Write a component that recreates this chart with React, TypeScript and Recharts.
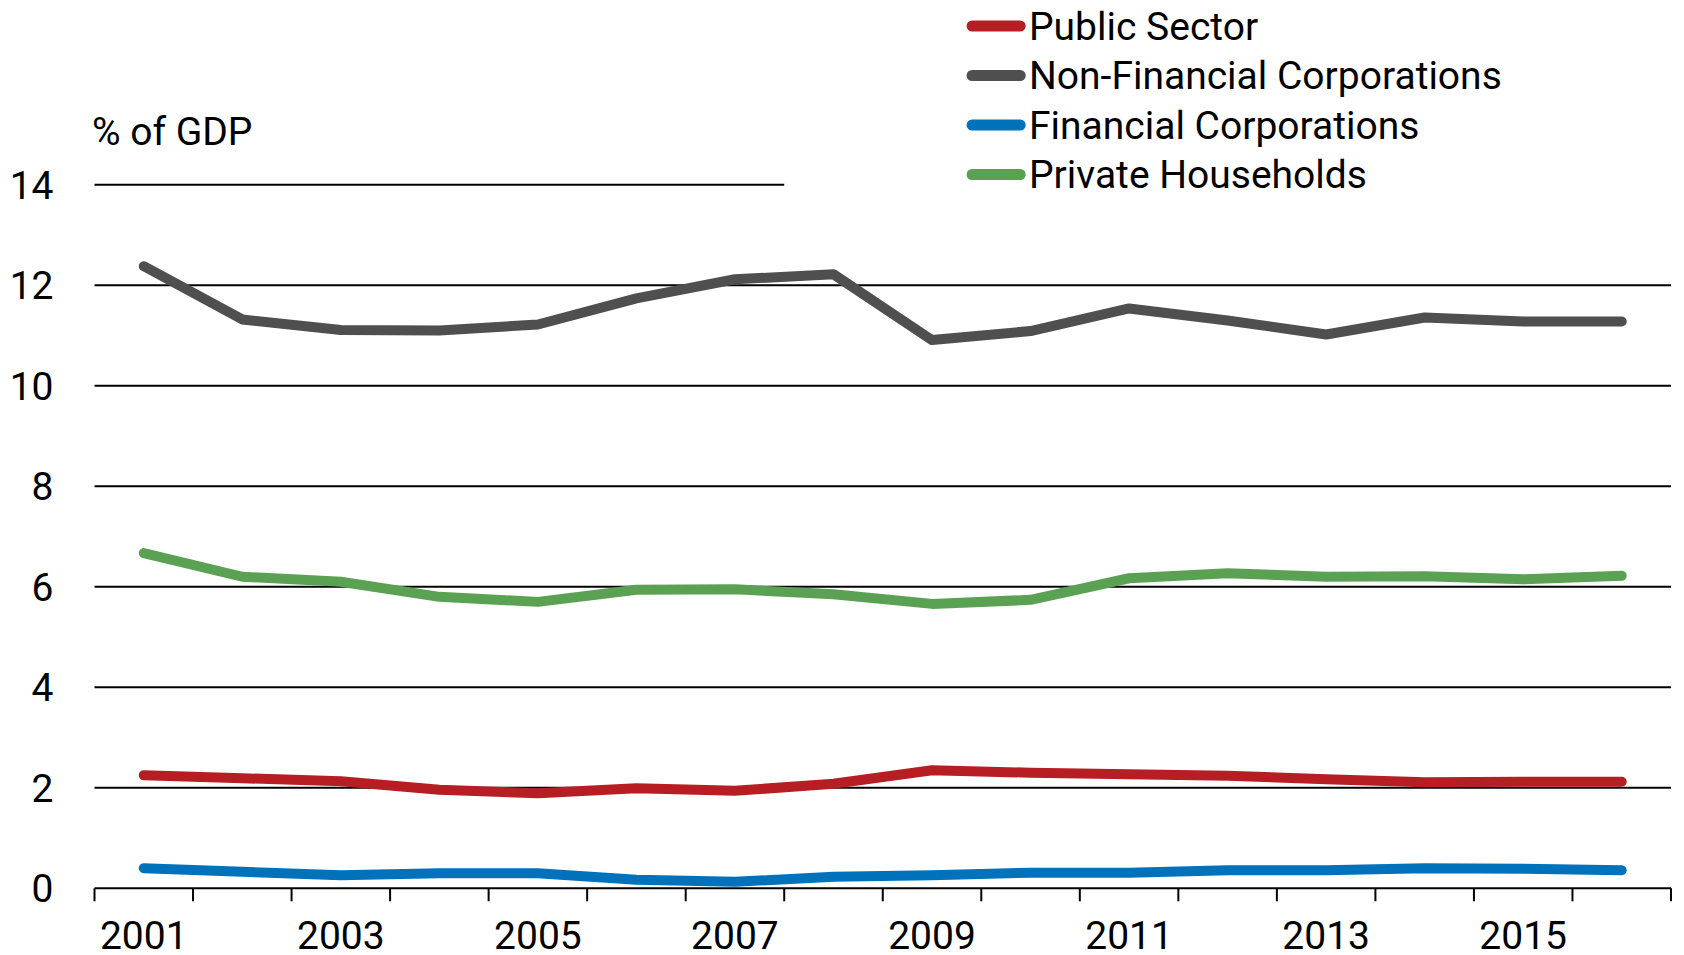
import React from 'react';
import { LineChart, Line, XAxis, YAxis, ReferenceLine, Legend } from 'recharts';

const years = ['2001', '2002', '2003', '2004', '2005', '2006', '2007', '2008', '2009', '2010', '2011', '2012', '2013', '2014', '2015', '2016'];
const labelledYears = ['2001', '2003', '2005', '2007', '2009', '2011', '2013', '2015'];
const publicSector = [2.25, 2.19, 2.13, 1.96, 1.89, 1.99, 1.94, 2.08, 2.35, 2.3, 2.27, 2.24, 2.17, 2.11, 2.12, 2.12];
const nonFinancial = [12.38, 11.32, 11.11, 11.1, 11.22, 11.74, 12.12, 12.22, 10.91, 11.09, 11.54, 11.3, 11.02, 11.36, 11.28, 11.28];
const financial = [0.4, 0.33, 0.26, 0.3, 0.3, 0.17, 0.13, 0.23, 0.26, 0.31, 0.31, 0.36, 0.36, 0.4, 0.39, 0.36];
const households = [6.67, 6.2, 6.1, 5.8, 5.7, 5.94, 5.95, 5.85, 5.66, 5.74, 6.17, 6.27, 6.2, 6.21, 6.15, 6.22];
const yTicks = [0, 2, 4, 6, 8, 10, 12, 14];
const gridValues = [2, 4, 6, 8, 10, 12];
const topGridValue = 14;
const topGridEndYear = '2007';
const unitLabel = '% of GDP';

const series = [
  { key: 'publicSector', name: 'Public Sector', color: '#B71E23' },
  { key: 'nonFinancial', name: 'Non-Financial Corporations', color: '#4F4F4F' },
  { key: 'financial', name: 'Financial Corporations', color: '#0072BC' },
  { key: 'households', name: 'Private Households', color: '#5BA153' },
];

const data = years.map((year, i) => ({
  year,
  publicSector: publicSector[i],
  nonFinancial: nonFinancial[i],
  financial: financial[i],
  households: households[i],
}));

const CHART_W = 1684;
const CHART_H = 955;
const MARGIN = { top: 184.8, right: 13, bottom: 6.7, left: 0 };
const Y_AXIS_W = 94.5;
const X_AXIS_H = 60;
const PLOT_W = CHART_W - MARGIN.left - MARGIN.right - Y_AXIS_W;
const BAND = PLOT_W / years.length;
const FONT = 'Roboto, "Liberation Sans", sans-serif';
const FONT_SIZE = 39;

const XTick = (props: any) => {
  const { x, y, payload, index } = props;
  const half = BAND / 2;
  return (
    <g>
      <line x1={x - half} x2={x - half} y1={y} y2={y + 13} stroke="#000" strokeWidth={2} />
      {index === years.length - 1 && (
        <line x1={x + half} x2={x + half} y1={y} y2={y + 13} stroke="#000" strokeWidth={2} />
      )}
      {labelledYears.includes(payload.value) && (
        <text x={x} y={y + 61} textAnchor="middle" fontFamily={FONT} fontSize={FONT_SIZE} fill="#000">
          {payload.value}
        </text>
      )}
    </g>
  );
};

const TopGridLine = (props: any) => {
  const { x1, x2, y1 } = props;
  const frac = (years.indexOf(topGridEndYear) + 1) / years.length;
  return <line x1={x1} x2={x1 + (x2 - x1) * frac} y1={y1} y2={y1} stroke="#000" strokeWidth={2} />;
};

const seriesOrder = (name: string) => series.findIndex((s) => s.name === name);

const LegendContent = (props: any) => {
  const { payload } = props;
  const rowH = 49.5;
  const items = [...(payload || [])].sort((a: any, b: any) => seriesOrder(a.value) - seriesOrder(b.value));
  return (
    <svg width={720} height={210} style={{ display: 'block', overflow: 'visible' }}>
      {items.map((p: any, i: number) => {
        const cy = 26 + i * rowH;
        return (
          <g key={p.value}>
            <line x1={17.1} x2={65.2} y1={cy} y2={cy} stroke={p.color} strokeWidth={11} strokeLinecap="round" />
            <text x={74} y={cy + 13.8} fontFamily={FONT} fontSize={FONT_SIZE} fill="#000">
              {p.value}
            </text>
          </g>
        );
      })}
    </svg>
  );
};

const UnitLabel = (props: any) => {
  const { viewBox } = props;
  return (
    <text x={viewBox.x + viewBox.width - 2.5} y={viewBox.y - 39.8} fontFamily={FONT} fontSize={FONT_SIZE} fill="#000">
      {unitLabel}
    </text>
  );
};

export default function App() {
  return (
    <div style={{ position: 'absolute', left: 0, top: 0, width: CHART_W, height: CHART_H, background: '#fff' }}>
      <LineChart width={CHART_W} height={CHART_H} data={data} margin={MARGIN}>
        <XAxis
          dataKey="year"
          type="category"
          scale="band"
          interval={0}
          height={X_AXIS_H}
          tickSize={0}
          tickMargin={0}
          tickLine={false}
          axisLine={{ stroke: '#000', strokeWidth: 2 }}
          tick={<XTick />}
        />
        <YAxis
          domain={[0, 14]}
          ticks={yTicks}
          width={Y_AXIS_W}
          axisLine={false}
          tickLine={false}
          tickSize={0}
          tickMargin={41}
          interval={0}
          tick={{ fontFamily: FONT, fontSize: FONT_SIZE, fill: '#000' }}
          label={<UnitLabel />}
        />
        {gridValues.map((v) => (
          <ReferenceLine key={v} y={v} stroke="#000" strokeWidth={2} />
        ))}
        <ReferenceLine y={topGridValue} shape={<TopGridLine />} />
        <Legend
          layout="horizontal"
          verticalAlign="middle"
          align="center"
          itemSorter={null as any}
          content={<LegendContent />}
          wrapperStyle={{ top: 0, left: 955, width: 720, height: 210, right: 'auto', bottom: 'auto' }}
        />
        {series.map((s) => (
          <Line
            key={s.key}
            type="linear"
            dataKey={s.key}
            name={s.name}
            stroke={s.color}
            strokeWidth={10}
            strokeLinecap="round"
            strokeLinejoin="round"
            dot={false}
            activeDot={false}
            isAnimationActive={false}
          />
        ))}
      </LineChart>
    </div>
  );
}
